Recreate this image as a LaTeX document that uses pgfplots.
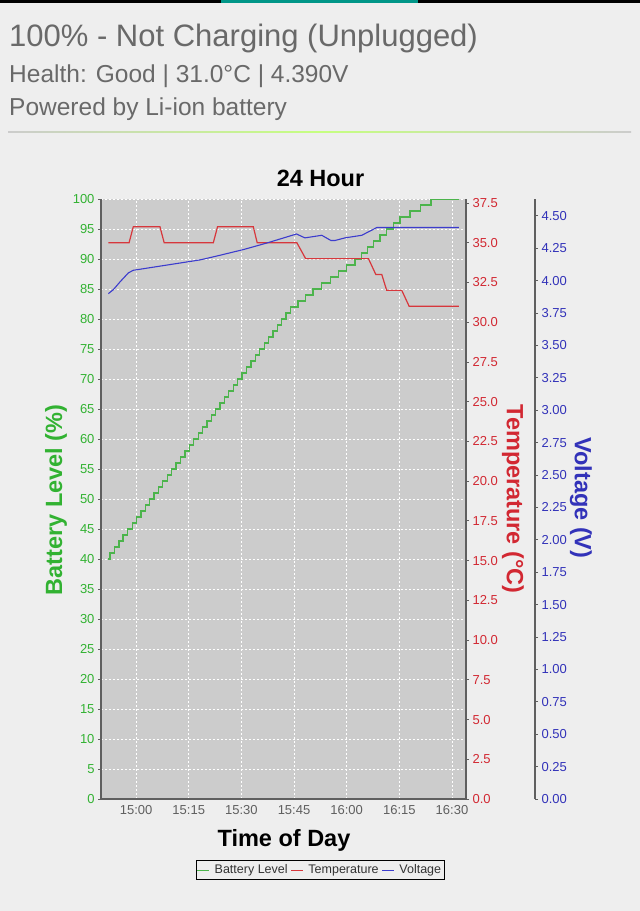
\documentclass[border=0pt]{standalone}
\usepackage{pgfplots}
\pgfplotsset{compat=1.18}
\usepackage{fontspec}
\setmainfont{Liberation Sans}
\definecolor{bgc}{RGB}{238,238,238}
\definecolor{plotbg}{RGB}{204,204,204}
\definecolor{gtxt}{RGB}{50,178,50}
\definecolor{gline}{RGB}{76,180,76}
\definecolor{rtxt}{RGB}{210,40,50}
\definecolor{rline}{RGB}{215,55,60}
\definecolor{btxt}{RGB}{50,50,185}
\definecolor{bline}{RGB}{60,60,205}
\definecolor{hdr}{RGB}{105,105,105}
\definecolor{axc}{RGB}{95,95,95}
\definecolor{tealbar}{RGB}{0,150,136}
\newcommand{\fs}[1]{\fontsize{#1bp}{#1bp}\selectfont}
\pgfplotsset{
  base/.style={
    at={(101bp,-799bp)}, anchor=south west, scale only axis,
    width=365bp, height=600bp,
    xmin=-10, xmax=94,
    /pgf/number format/assume math mode=true,
    tick label style={font=\fs{13}},
    axis line style={axc, line width=1.2bp, -},
    tick align=outside, major tick length=3bp,
  },
}
\begin{document}
\begin{tikzpicture}[x=1bp,y=1bp]
\useasboundingbox (0,0) rectangle (640,-911);
\fill[bgc] (0,0) rectangle (640,-911);
\fill[black] (0,0) rectangle (640,-3);
\fill[tealbar] (221,0) rectangle (418,-3);
\shade[left color=gray!40, right color=gray!40, middle color=green!45!yellow!50!white] (8,-131) rectangle (631,-132.6);
\node[anchor=base west, inner sep=0, text=hdr, font=\fs{31}] at (9,-46) {100\% - Not Charging (Unplugged)};
\node[anchor=base west, inner sep=0, text=hdr, font=\fs{24.5}] at (9,-82) {Health: Good | 31.0°C | 4.390V};
\node[anchor=base west, inner sep=0, text=hdr, font=\fs{24.5}] at (9,-115) {Powered by Li-ion battery};
\node[anchor=base, inner sep=0, font=\bfseries\fs{23.5}] at (320.5,-186) {24 Hour};
\node[anchor=base, inner sep=0, font=\bfseries\fs{23.5}] at (284,-846) {Time of Day};
\node[rotate=90, inner sep=0, font=\bfseries\fs{23.5}, text=gtxt] at (56,-500) {Battery Level (\%)};
\node[rotate=-90, inner sep=0, font=\bfseries\fs{23.5}, text=rtxt] at (513,-499) {Temperature (°C)};
\node[rotate=-90, inner sep=0, font=\bfseries\fs{23.5}, text=btxt] at (581,-498) {Voltage (V)};

\begin{axis}[base,
  ymin=0, ymax=100,
  axis background/.style={fill=plotbg},
  axis x line*=bottom, axis y line*=left,
  xtick={0,15,30,45,60,75,90},
  xticklabels={15:00,15:15,15:30,15:45,16:00,16:15,16:30},
  ytick={0,5,...,100},
  grid=major,
  grid style={white, line width=0.7bp, dash pattern=on 2bp off 2bp},
  xticklabel style={text=axc},
  yticklabel style={text=gtxt},
  xtick style={draw=none},
  ytick style={axc, line width=0.8bp},
]
\addplot[const plot, gline, line width=1.3bp] coordinates {
(-8.0,40) (-7.4,41) (-6.2,42) (-4.9,43) (-3.7,44) (-2.4,45) (-1.1,46) (0.1,47) (1.4,48) (2.6,49)
(3.9,50) (5.1,51) (6.4,52) (7.6,53) (8.9,54) (10.1,55) (11.4,56) (12.7,57) (13.9,58) (15.2,59)
(16.4,60) (17.7,61) (18.9,62) (20.2,63) (21.4,64) (22.7,65) (23.9,66) (25.2,67) (26.4,68) (27.7,69)
(28.9,70) (30.2,71) (31.5,72) (32.7,73) (34.0,74) (35.2,75) (36.5,76) (37.7,77) (39.0,78) (40.2,79)
(41.5,80) (42.7,81) (44.0,82) (46.1,83) (48.3,84) (50.4,85) (52.8,86) (55.3,87) (57.6,88) (60.0,89)
(62.4,90) (64.2,91) (65.9,92) (67.7,93) (69.5,94) (71.4,95) (73.3,96) (75.2,97) (78.0,98) (81.0,99)
(84.0,100) (92.0,100)
};
\end{axis}

\begin{axis}[base,
  ymin=0, ymax=37.75,
  axis x line=none, axis y line*=right,
  ytick={0,2.5,5,7.5,10,12.5,15,17.5,20,22.5,25,27.5,30,32.5,35,37.5},
  yticklabel style={text=rtxt, /pgf/number format/.cd, fixed, fixed zerofill, precision=1},
  ytick style={axc, line width=0.8bp},
]
\addplot[rline, line width=1.2bp] coordinates {
(-7.9,35) (-2.0,35) (-0.8,36) (6.8,36) (8.0,35) (22.0,35) (23.2,36) (33.4,36) (34.5,35)
(45.8,35) (48.3,34) (66.2,34) (68.3,33) (70.0,33) (71.4,32) (75.7,32) (77.8,31) (92.0,31)
};
\end{axis}

\begin{axis}[base,
  ymin=0, ymax=4.63,
  axis x line=none, axis y line*=right,
  axis y line shift=69bp,
  ytick={0,0.25,0.5,0.75,1,1.25,1.5,1.75,2,2.25,2.5,2.75,3,3.25,3.5,3.75,4,4.25,4.5},
  yticklabel style={text=btxt, /pgf/number format/.cd, fixed, fixed zerofill, precision=2},
  ytick style={axc, line width=0.8bp},
  legend style={at={(axis description cs:0.6,-0.1183)}, anchor=center, legend columns=3,
    draw=black, line width=0.8bp, fill=none, font=\fs{12.5}, text=black!80,
    inner xsep=1bp, inner ysep=2.5bp,
    /tikz/every even column/.append style={column sep=1bp},
    /tikz/every odd column/.append style={column sep=3bp}},
  legend image code/.code={\draw[#1, line width=0.8bp] (0bp,0bp) -- (12bp,0bp);},
]
\addlegendimage{gline}
\addlegendentry{Battery Level}
\addlegendimage{rline}
\addlegendentry{Temperature}
\addplot[bline, line width=1.1bp] coordinates {
(-7.9,3.90) (-6.5,3.93) (-4.6,3.99) (-2.2,4.06) (-0.8,4.08) (8.7,4.12) (18.2,4.16) (23.0,4.19)
(30.6,4.24) (37.2,4.29) (45.7,4.36) (48.1,4.33) (52.9,4.35) (55.5,4.31) (56.7,4.31) (59.5,4.33)
(64.3,4.35) (68.6,4.41) (92.0,4.41)
};
\addlegendentry{Voltage}
\end{axis}
\end{tikzpicture}
\end{document}
